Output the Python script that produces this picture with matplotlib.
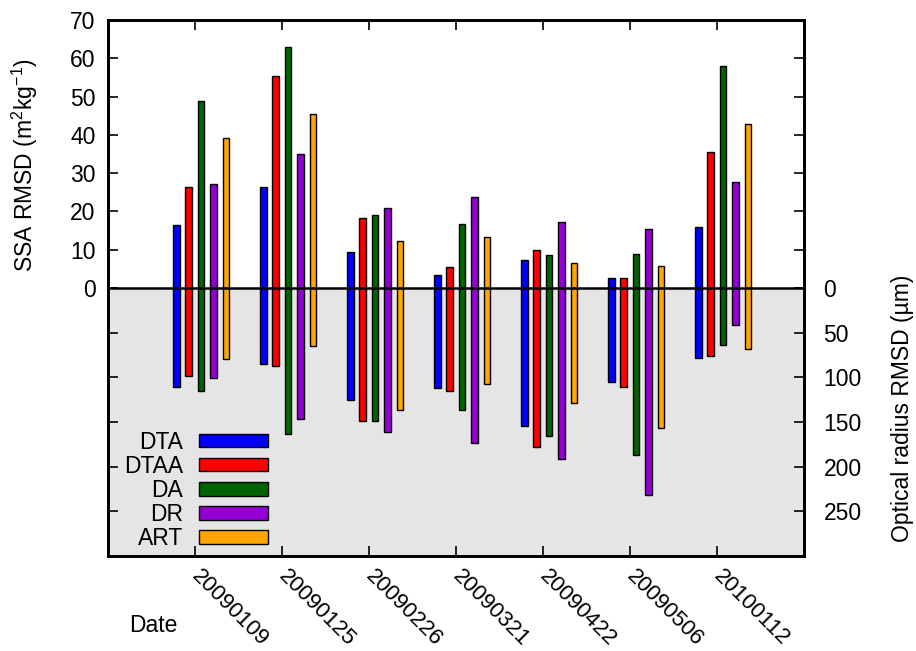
import numpy as np
import matplotlib
matplotlib.use("Agg")
import matplotlib.pyplot as plt
from matplotlib.patches import Patch

plt.rcParams['font.family'] = ['Liberation Sans', 'DejaVu Sans']
plt.rcParams['mathtext.fontset'] = 'custom'
plt.rcParams['mathtext.rm'] = 'Liberation Sans'
plt.rcParams['mathtext.it'] = 'Liberation Sans'

dates = ['20090109', '20090125', '20090226', '20090321', '20090422', '20090506', '20100112']
methods = ['DTA', 'DTAA', 'DA', 'DR', 'ART']
colors = ['#0000ff', '#ff0000', '#006400', '#9400d3', '#ffa500']

# SSA RMSD (m2/kg), upper half
ssa_dta = [16.5, 26.3, 9.4, 3.5, 7.3, 2.6, 16.0]
ssa_dtaa = [26.3, 55.5, 18.2, 5.5, 9.8, 2.6, 35.4]
ssa_da = [48.8, 62.9, 19.1, 16.6, 8.6, 8.9, 57.9]
ssa_dr = [27.2, 35.1, 20.8, 23.8, 17.2, 15.3, 27.6]
ssa_art = [39.3, 45.5, 12.2, 13.2, 6.4, 5.7, 42.8]

# optical radius RMSD (um), lower half
rad_dta = [111.2, 85.5, 125.6, 111.9, 154.3, 105.2, 78.4]
rad_dtaa = [98.9, 87.4, 149.1, 114.9, 177.7, 110.8, 76.2]
rad_da = [115.2, 163.2, 149.1, 136.8, 165.4, 186.6, 63.9]
rad_dr = [101.1, 146.8, 161.0, 173.6, 191.1, 231.6, 40.9]
rad_art = [79.2, 65.1, 136.8, 107.8, 129.0, 156.9, 68.0]

ssa = [ssa_dta, ssa_dtaa, ssa_da, ssa_dr, ssa_art]
rad = [rad_dta, rad_dtaa, rad_da, rad_dr, rad_art]

fs = 16.5

fig = plt.figure(figsize=(9.16, 6.51), dpi=100)
ax = fig.add_axes([108/916, 1-556/651, 696/916, 536/651])
ax2 = ax.twinx()

ax.set_xlim(0, 8)
ax.set_ylim(-70, 70)
ax2.set_ylim(300, -300)

ax.axhspan(-70, 0, color='#e5e5e5', zorder=0, lw=0)

x = np.arange(1, len(dates)+1)
for k in range(len(methods)):
    pos = x + 0.07 + (k-2)*0.143
    ax.bar(pos, ssa[k], width=0.076, color=colors[k], edgecolor='black', linewidth=1, zorder=3)
    ax2.bar(pos, rad[k], width=0.076, color=colors[k], edgecolor='black', linewidth=1, zorder=3)

ax2.axhline(0, color='black', lw=1.8, zorder=5)

ax.set_xticks(x)
ax.set_xticklabels(dates, rotation=-45, ha='left', va='center', rotation_mode='anchor', fontsize=16)
ax.set_yticks(np.arange(0, 71, 10))
ax.tick_params(axis='y', direction='in', length=7, width=1.2, right=True, labelsize=fs, pad=9)
ax.tick_params(axis='x', direction='in', length=7, width=1.2, top=True, pad=12)

ax2.set_yticks(np.arange(0, 251, 50))
ax2.tick_params(axis='y', direction='in', length=7, width=1.2, left=True, labelleft=False, labelsize=fs, pad=14)

for a in [ax, ax2]:
    for s in a.spines.values():
        s.set_linewidth(2)

fig.text(25/916, 1-165/651, 'SSA RMSD (m$^2$kg$^{-1}$)', rotation=90, ha='center', va='center', fontsize=fs)
fig.text(903/916, 1-408/651, 'Optical radius RMSD (\u00b5m)', rotation=90, ha='center', va='center', fontsize=fs)
fig.text(129/916, 1-626/651, 'Date', ha='left', va='center', fontsize=fs)

handles = [Patch(facecolor=c, edgecolor='black', linewidth=1) for c in colors]
ax2.legend(handles, methods, loc='lower right', bbox_to_anchor=(0.23, 0.011), markerfirst=False,
           frameon=False, fontsize=fs, handlelength=3.0, handleheight=0.55, handletextpad=0.7,
           labelspacing=0.05, borderpad=0, borderaxespad=0)

fig.savefig('out.png', dpi=100)
